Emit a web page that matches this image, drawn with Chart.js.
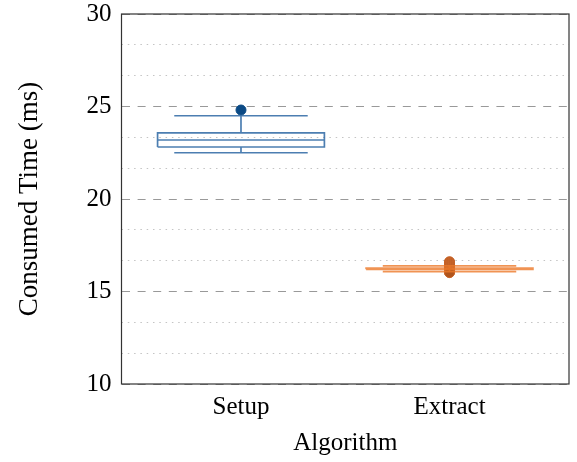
<!DOCTYPE html>
<html>
<head>
<meta charset="utf-8">
<script src="https://cdn.jsdelivr.net/npm/chart.js@4.4.1/dist/chart.umd.min.js"></script>
<style>
  html, body { margin: 0; padding: 0; background: #fff; }
  #wrap { width: 577px; height: 462px; }
</style>
</head>
<body>
<div id="wrap"><canvas id="plot"></canvas></div>
<script>
// box statistics per algorithm
const categories = ["Setup", "Extract"];
const positions = [1, 2];
const lowerWhisker = [22.5, 16.07];
const lowerQuartile = [22.81, 16.2];
const median = [23.19, 16.23];
const upperQuartile = [23.57, 16.27];
const upperWhisker = [24.5, 16.39];
const outliersSetup = [24.81];
const outliersExtract = [16.61, 16.58, 16.55, 16.52, 16.49, 16.46, 16.43, 16.4, 16.37,
  16.34, 16.31, 16.28, 16.25, 16.22, 16.19, 16.16, 16.13, 16.1, 16.07, 16.04, 16.02];
const yTicks = [10, 15, 20, 25, 30];

const BOX_HALF = 0.4;
const CAP_HALF = 0.32;
const serif = "'Liberation Serif', 'DejaVu Serif', serif";

function boxLines(i) {
  const p = positions[i];
  const gap = { x: p, y: null };
  return [
    { x: p - BOX_HALF, y: lowerQuartile[i] }, { x: p + BOX_HALF, y: lowerQuartile[i] },
    { x: p + BOX_HALF, y: upperQuartile[i] }, { x: p - BOX_HALF, y: upperQuartile[i] },
    { x: p - BOX_HALF, y: lowerQuartile[i] }, gap,
    { x: p - BOX_HALF, y: median[i] }, { x: p + BOX_HALF, y: median[i] }, gap,
    { x: p, y: upperQuartile[i] }, { x: p, y: upperWhisker[i] }, gap,
    { x: p - CAP_HALF, y: upperWhisker[i] }, { x: p + CAP_HALF, y: upperWhisker[i] }, gap,
    { x: p, y: lowerQuartile[i] }, { x: p, y: lowerWhisker[i] }, gap,
    { x: p - CAP_HALF, y: lowerWhisker[i] }, { x: p + CAP_HALF, y: lowerWhisker[i] },
  ];
}

const framePlugin = {
  id: "frame",
  afterDatasetsDraw: (chart) => {
    const { ctx, chartArea: a } = chart;
    ctx.save();
    ctx.strokeStyle = "#333";
    ctx.lineWidth = 1.2;
    ctx.strokeRect(a.left, a.top, a.right - a.left, a.bottom - a.top);
    ctx.restore();
  },
};

const isMajor = (v) => Math.abs(v / 5 - Math.round(v / 5)) < 1e-6;

const cfg = {
  type: "scatter",
  plugins: [framePlugin],
  data: {
    datasets: [
      {
        data: boxLines(0),
        showLine: true,
        spanGaps: false,
        borderColor: "rgba(31,94,158,0.8)",
        borderWidth: 1.7,
        pointRadius: 0,
      },
      {
        data: outliersSetup.map((v) => ({ x: positions[0], y: v })),
        pointRadius: 5,
        pointBackgroundColor: "#0b4a85",
        pointBorderColor: "#0b4a85",
        pointBorderWidth: 1,
      },
      {
        data: boxLines(1),
        showLine: true,
        spanGaps: false,
        borderColor: "rgba(236,120,40,0.8)",
        borderWidth: 1.7,
        pointRadius: 0,
      },
      {
        data: outliersExtract.map((v) => ({ x: positions[1], y: v })),
        pointRadius: 5,
        pointBackgroundColor: "#b0541c",
        pointBorderColor: "#c8652a",
        pointBorderWidth: 1,
      },
    ],
  },
  options: {
    responsive: true,
    maintainAspectRatio: false,
    animation: false,
    events: [],
    layout: { padding: { top: 14, right: 8, left: 0, bottom: 0 } },
    plugins: { legend: { display: false }, tooltip: { enabled: false } },
    scales: {
      x: {
        type: "linear",
        min: 0.427,
        max: 2.573,
        afterBuildTicks: (s) => { s.ticks = positions.map((v) => ({ value: v })); },
        afterFit: (s) => { s.height = 78; },
        ticks: {
          callback: (v) => categories[positions.indexOf(v)],
          color: "#000",
          font: { family: serif, size: 25 },
          padding: 8,
          maxRotation: 0,
        },
        grid: { display: false, drawTicks: false },
        border: { display: false },
        title: {
          display: true,
          text: "Algorithm",
          color: "#000",
          font: { family: serif, size: 25 },
          padding: { top: 0, bottom: 4 },
        },
      },
      y: {
        min: 10,
        max: 30,
        afterBuildTicks: (s) => { s.ticks = yTicks.map((v) => ({ value: v })); },
        afterFit: (s) => { s.width = 121.5; s.paddingTop = 0; s.paddingBottom = 0; },
        ticks: {
          color: "#000",
          font: { family: serif, size: 25 },
          padding: 10,
        },
        grid: { color: "#999", lineWidth: 1, drawTicks: false },
        border: { display: false, dash: [8, 7.6] },
        title: {
          display: true,
          text: "Consumed Time (ms)",
          color: "#000",
          font: { family: serif, size: 27 },
          padding: { top: 14, bottom: 6 },
        },
      },
      yMinor: {
        position: "right",
        min: 10,
        max: 30,
        ticks: { display: false, stepSize: 5 / 3 },
        afterFit: (s) => { s.width = 0; s.paddingTop = 0; s.paddingBottom = 0; },
        grid: {
          drawTicks: false,
          lineWidth: 1,
          color: (c) => (isMajor(c.tick.value) ? "rgba(0,0,0,0)" : "#c4c4c4"),
        },
        border: { display: false, dash: [1.5, 4.8] },
      },
    },
  },
};

const canvas = document.getElementById("plot");
const chart = new Chart(canvas.getContext("2d"), cfg);
</script>
</body>
</html>
